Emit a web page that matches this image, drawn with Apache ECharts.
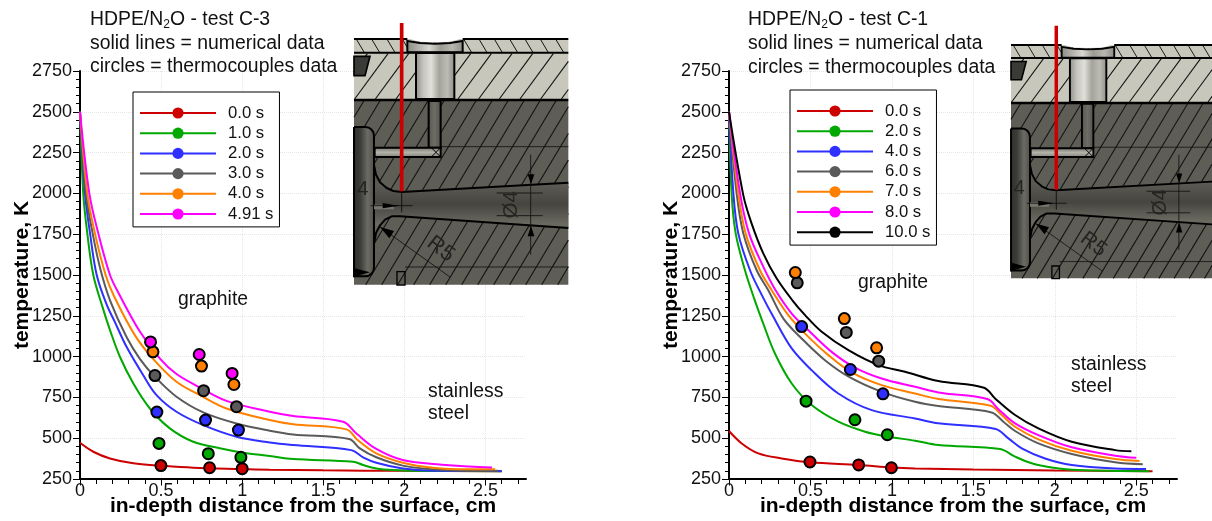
<!DOCTYPE html>
<html><head><meta charset="utf-8">
<style>html,body{margin:0;padding:0;background:#fff}#c{width:1212px;height:521px}</style>
<script src="https://cdn.jsdelivr.net/npm/echarts@6/dist/echarts.min.js"></script>
</head><body><div id="c"></div>
<script>
// ---- Test C-3 curves [depth cm, temperature K]
const c3_t000 = [[0,472],[.082,417],[.185,376],[.329,346],[.493,332],[.698,319],[.996,311],[1.17,307],[1.5,303],[2,300],[2.6,298]];
const c3_t100 = [[0,2500],[.02,2000],[.045,1755],[.082,1500],[.14,1300],[.185,1162],[.246,999],[.329,835],[.431,682],[.554,560],[.698,478],[.862,438],[1.006,411],[1.17,391],[1.314,372],[1.684,356],[1.745,336],[1.827,315],[1.93,305],[2.13,299],[2.6,298]];
const c3_t200 = [[0,2500],[.031,2000],[.062,1755],[.103,1500],[.164,1320],[.216,1210],[.287,1060],[.39,886],[.472,764],[.595,662],[.76,580],[.965,509],[1.17,474],[1.314,458],[1.673,427],[1.745,383],[1.827,350],[1.99,315],[2.177,301],[2.6,299]];
const c3_t300 = [[0,2500],[.037,2000],[.078,1755],[.127,1530],[.185,1345],[.287,1120],[.37,985],[.462,876],[.595,754],[.76,658],[.965,590],[1.17,546],[1.314,523],[1.66,495],[1.725,438],[1.827,383],[1.99,332],[2.177,309],[2.4,299],[2.58,300]];
const c3_t400 = [[0,2500],[.045,2000],[.092,1755],[.158,1500],[.21,1370],[.339,1130],[.452,985],[.595,846],[.739,764],[.903,682],[1.17,611],[1.314,585],[1.643,554],[1.712,489],[1.827,407],[1.99,350],[2.177,319],[2.4,309],[2.56,309]];
const c3_t491 = [[0,2500],[.0575,2000],[.113,1755],[.185,1500],[.24,1385],[.37,1152],[.493,988],[.595,893],[.739,811],[.903,729],[1.17,662],[1.314,636],[1.622,601],[1.704,529],[1.827,434],[1.99,366],[2.2,340],[2.4,326],[2.54,320]];
// ---- Test C-1 curves
const c1_t000 = [[0,544],[.078,468],[.18,407],[.323,376],[.497,352],[.794,336],[1,321],[1.142,315],[1.5,308],[2,302],[2.6,298]];
const c1_t200 = [[0,2500],[.016,2000],[.041,1755],[.098,1529],[.153,1360],[.211,1200],[.282,1019],[.385,835],[.507,703],[.671,601],[.835,540],[.978,509],[1.142,485],[1.285,458],[1.664,434],[1.756,387],[1.858,346],[1.98,321],[2.144,305],[2.58,298]];
const c1_t400 = [[0,2500],[.027,2000],[.057,1755],[.129,1529],[.2,1380],[.272,1244],[.385,1050],[.507,917],[.671,774],[.876,672],[1.142,621],[1.285,591],[1.637,556],[1.715,499],[1.797,438],[1.94,376],[2.104,336],[2.37,315],[2.56,312]];
const c1_t600 = [[0,2500],[.047,2000],[.088,1755],[.17,1529],[.241,1407],[.334,1233],[.446,1111],[.589,978],[.743,872],[.937,784],[1.142,723],[1.285,697],[1.612,658],[1.684,601],[1.756,544],[1.899,468],[2.104,403],[2.37,352],[2.54,340]];
const c1_t700 = [[0,2500],[.057,2000],[.102,1755],[.19,1529],[.262,1407],[.364,1254],[.467,1141],[.61,1009],[.753,903],[.937,825],[1.142,774],[1.285,740],[1.606,699],[1.674,642],[1.756,570],[1.899,493],[2.104,423],[2.37,372],[2.52,360]];
const c1_t800 = [[0,2500],[.068,2000],[.123,1755],[.211,1550],[.286,1407],[.385,1264],[.487,1162],[.63,1029],[.773,933],[.937,866],[1.142,815],[1.285,780],[1.586,740],[1.654,678],[1.756,591],[1.899,519],[2.104,444],[2.37,393],[2.5,380]];
const c1_t1000 = [[0,2500],[.088,1988],[.139,1815],[.211,1631],[.293,1478],[.389,1345],[.467,1254],[.569,1152],[.733,1039],[.917,948],[1.08,907],[1.285,850],[1.565,809],[1.633,744],[1.756,642],[1.899,560],[2.104,478],[2.37,427],[2.47,420]];
// ---- Thermocouple readings
const c3_tc000 = [[.499,332],[.799,319],[1.0,313]];
const c3_tc100 = [[.487,468],[.791,405],[.992,383]];
const c3_tc200 = [[.474,660],[.774,611],[.977,550]];
const c3_tc300 = [[.462,884],[.762,791],[.965,693]];
const c3_tc400 = [[.45,1029],[.749,942],[.949,829]];
const c3_tc491 = [[.435,1090],[.735,1013],[.938,897]];
const c1_tc000 = [[.497,354],[.796,336],[.997,319]];
const c1_tc200 = [[.473,727],[.773,613],[.972,521]];
const c1_tc400 = [[.446,1184],[.745,921],[.945,772]];
const c1_tc600 = [[.419,1452],[.72,1148],[.919,972]];
const c1_tc700 = [[.407,1515],[.708,1233],[.906,1054]];
// ---- Labels and ticks
const c3_times = ['0.0 s','1.0 s','2.0 s','3.0 s','4.0 s','4.91 s'];
const c1_times = ['0.0 s','2.0 s','4.0 s','6.0 s','7.0 s','8.0 s','10.0 s'];
const xMajor = [0,.5,1,1.5,2,2.5];
const xMinor = [.1,.2,.3,.4,.6,.7,.8,.9,1.1,1.2,1.3,1.4,1.6,1.7,1.8,1.9,2.1,2.2,2.3,2.4,2.6,2.7];

const RED='#cc0000',GREEN='#00a800',BLUE='#2f2fff',GRAY='#5a5a5a',ORANGE='#ff8000',MAG='#ff00ff',BLK='#000000';
const FONT='"Liberation Sans", Arial, sans-serif';

const series=[];
function addSet(prefix,times,colors,curves,tcs,xi,yi){
  times.forEach((t,i)=>{
    series.push({name:prefix+'|'+t,type:'line',xAxisIndex:xi,yAxisIndex:yi,data:curves[i],symbol:'none',showSymbol:false,
      smooth:.35,lineStyle:{color:colors[i],width:2},itemStyle:{color:colors[i]},z:3,silent:true,animation:false});
  });
  tcs.forEach((d,i)=>{
    series.push({name:prefix+'|tc'+i,type:'scatter',xAxisIndex:xi,yAxisIndex:yi,data:d,symbolSize:11,
      itemStyle:{color:colors[i],borderColor:'#000',borderWidth:2,opacity:1},z:4,silent:true,animation:false});
  });
}
addSet('C3',c3_times,[RED,GREEN,BLUE,GRAY,ORANGE,MAG],[c3_t000,c3_t100,c3_t200,c3_t300,c3_t400,c3_t491],[c3_tc000,c3_tc100,c3_tc200,c3_tc300,c3_tc400,c3_tc491],0,0);
addSet('C1',c1_times,[RED,GREEN,BLUE,GRAY,ORANGE,MAG,BLK],[c1_t000,c1_t200,c1_t400,c1_t600,c1_t700,c1_t800,c1_t1000],[c1_tc000,c1_tc200,c1_tc400,c1_tc600,c1_tc700],2,1);

function xAxes(gi){
  return [{
    gridIndex:gi,type:'value',min:0,max:2.75,position:'bottom',
    name:'in-depth distance from the surface, cm',nameLocation:'middle',nameGap:17,nameMoveOverlap:false,
    nameTextStyle:{fontFamily:FONT,fontWeight:'bold',fontSize:21,color:'#000'},
    axisLine:{onZero:false,lineStyle:{color:'#000',width:2}},
    axisTick:{show:true,length:6.5,inside:false,customValues:xMajor,lineStyle:{color:'#000',width:1}},
    axisLabel:{customValues:xMajor,formatter:v=>String(v),fontFamily:FONT,fontSize:18,color:'#111',margin:3,hideOverlap:false},
    splitLine:{show:true,lineStyle:{color:'#e6e6e6',type:'dotted',width:1}}
  },{
    gridIndex:gi,type:'value',min:0,max:2.75,position:'bottom',
    axisLine:{show:false},
    axisTick:{show:true,length:5,customValues:xMinor,lineStyle:{color:'#000',width:1}},
    axisLabel:{show:false},splitLine:{show:false}
  }];
}
function yAxis(gi){
  return {gridIndex:gi,type:'value',min:250,max:2750,interval:250,
    name:'temperature, K',nameLocation:'middle',nameGap:47,nameMoveOverlap:false,
    nameTextStyle:{fontFamily:FONT,fontWeight:'bold',fontSize:21,color:'#000'},
    axisLine:{show:true,onZero:false,lineStyle:{color:'#000',width:2}},
    axisTick:{show:true,length:7,lineStyle:{color:'#000',width:1}},
    minorTick:{show:true,splitNumber:5,length:4,lineStyle:{color:'#000',width:1}},
    axisLabel:{formatter:v=>String(v),fontFamily:FONT,fontSize:18,color:'#111',margin:8,showMinLabel:true,showMaxLabel:true},
    splitLine:{show:true,lineStyle:{color:'#e6e6e6',type:'dotted',width:1}}
  };
}
function legend(prefix,times,left,top){
  return {orient:'vertical',left:left,top:top,selectedMode:false,data:times.map(t=>prefix+'|'+t),
    formatter:n=>n.split('|')[1],itemWidth:76,itemHeight:14,itemGap:3.2,
    padding:[12.5,6,4.4,6],backgroundColor:'#fff',borderColor:'#000',borderWidth:1,borderRadius:0,
    textStyle:{fontFamily:FONT,fontSize:16.7,color:'#111',padding:[0,0,0,7]}};
}

// ---- Nozzle section picture, drawn in its own local coordinates
function L(x1,y1,x2,y2,w,c){return {type:'line',z:10,shape:{x1,y1,x2,y2},style:{stroke:c||'#000',lineWidth:w||3}};}
function R(x,y,w,h,f,s,sw,r){return {type:'rect',z:10,shape:{x,y,width:w,height:h,r:r||0},style:{fill:f,stroke:s||null,lineWidth:sw||0}};}
function P(pts,f,s,sw){return {type:'polygon',z:10,shape:{points:pts},style:{fill:f||null,stroke:s||null,lineWidth:sw||0}};}
function PL(pts,s,sw){return {type:'polyline',z:10,shape:{points:pts},style:{fill:null,stroke:s,lineWidth:sw,lineJoin:'round'}};}
function T(t,x,y,size,rot){return {type:'text',z:11,x,y,rotation:rot||0,style:{text:t,fontFamily:FONT,fontSize:size,fill:'#242422',align:'center',verticalAlign:'middle'}};}
function grad(vert,stops){return {type:'linear',x:0,y:0,x2:vert?0:1,y2:vert?1:0,colorStops:stops.map((c,i)=>({offset:i/(stops.length-1),color:c}))};}
function nozzle(ox,oy,k,redTop){
  const ch=[];
  const X0=12,X1=655,Y1=795;
  const HATCH='#141414';
  ch.push(R(X0,58,X1-X0,185,'#c8c7bb'));
  ch.push(R(X0,243,X1-X0,Y1-243,'#5e5d56'));
  // hatching: top strip leans back, plate and graphite lean forward
  for(let x=X0+8;x<X1-20;x+=46){ch.push(L(x,60,x+22,97,3,HATCH));}
  for(let x=X0+40;x<X1+100;x+=62){
    let xa=x,ya=102; if(xa>X1){ya=102+(xa-X1)*1.36;xa=X1;}
    let xb=x-100,yb=238; if(xb<X0){yb=102+(x-X0)*1.36;xb=X0;}
    ch.push(L(xa,ya,xb,yb,3.4,HATCH));
  }
  for(let x=X0+30;x<X1+330;x+=48){
    let x1=x,y1=243; if(x1>X1){y1=243+(x1-X1)/.6;x1=X1;}
    let x2=x-331,y2=Y1; if(x2<X0){x2=X0;y2=243+(x-X0)/.6;}
    if(y1<Y1) ch.push(L(x1,y1,x2,y2,3.4,HATCH));
  }
  ch.push(L(272,381,X1,381,2.6,HATCH));
  ch.push(L(165,742,X1,742,2.6,HATCH));
  // bore and chamber
  ch.push(P([[66,436],[78,465],[90,488],[110,505],[130,514],[155,517],[X1,489],[X1,625],[150,590],[125,590],[105,600],[90,617],[78,640],[66,672]],grad(true,['#4a4943','#5b5a53','#46453f','#6a6a61','#55544d'])));
  ch.push(R(X0,322,60,448,grad(false,['#2e2e2b','#3c3c38','#6c6b64','#4c4b46']),'#000',6,[0,26,26,0]));
  ch.push(PL([[72,436],[78,465],[90,488],[110,505],[130,514],[155,517],[X1,489]],'#000',6));
  ch.push(PL([[72,672],[78,640],[90,617],[105,600],[125,590],[150,590],[X1,625]],'#000',6));
  ch.push(R(72,555,60,14,'#77766d'));
  // upper holes
  ch.push(P([[172,64],[210,70],[255,72],[300,70],[338,64],[338,98],[172,98]],grad(false,['#8a8a82','#b0b0a8','#d8d8d2','#9c9c94','#b8b8b0','#8a8a82']),'#000',6));
  ch.push(P([[172,56],[210,66],[255,68],[300,66],[338,56],[338,50],[172,50]],'#ffffff'));
  ch.push(L(X0,58,172,58,6)); ch.push(L(338,58,X1,58,6));
  ch.push(R(198,100,115,138,grad(false,['#8c8c84','#c4c4bc','#e0e0da','#a4a49c','#bcbcb4','#8c8c84']),'#000',6));
  ch.push(L(X0,99,X1,99,6));
  ch.push(L(X0,241,X1,241,8));
  ch.push(P([[12,110],[60,110],[45,168],[12,168]],'#3a3a37','#000',5));
  // thermocouple channel
  ch.push(R(236,244,36,140,grad(false,['#55544e','#6e6d65','#4e4d48']),'#000',6));
  ch.push(R(74,384,198,28,grad(true,['#6a6a62','#b4b4aa','#7a7a70']),'#000',6));
  ch.push(L(272,384,244,412,3)); ch.push(L(244,384,272,412,3));
  // dimensions
  ch.push(L(542,405,542,705,2.6,'#111'));
  ch.push(P([[533,464],[553,464],[543,494]],'#000'));
  ch.push(P([[533,650],[553,650],[543,618]],'#000'));
  ch.push(L(440,520,578,520,2.6,'#111')); ch.push(L(440,588,578,588,2.6,'#111'));
  ch.push(L(155,520,155,578,3,'#111'));
  ch.push(L(62,558,188,558,2.6,'#111'));
  ch.push(P([[98,550],[98,566],[148,558]],'#000'));
  ch.push(L(90,622,300,772,2.6,'#111'));
  ch.push(P([[90,622],[132,634],[118,656]],'#000'));
  ch.push(P([[14,746],[60,758],[14,770]],'#000'));
  ch.push(R(141,756,24,40,null,'#000',4));
  ch.push(T('4',38,510,62));
  ch.push(T('Ø4',485,555,62,Math.PI/2));
  ch.push(T('R5',272,688,66,-0.66));
  ch.push(L(155,redTop,155,515,11,'#cc0000'));
  return {type:'group',x:ox-X0*k,y:oy-55*k,scaleX:k,scaleY:k,children:ch};
}
const TS=19.4;
function label(text,x,y){return {type:'text',z:12,x,y,style:{text,fontFamily:FONT,fontSize:TS,fill:'#111',verticalAlign:'middle',
  rich:{sub:{fontFamily:FONT,fontSize:12,fill:'#111',padding:[9,0,0,0]},n:{fontFamily:FONT,fontSize:TS,fill:'#111'}}}};}

const option={
  animation:false,backgroundColor:'#fff',
  grid:[{left:80,top:71,width:446,height:408,outerBoundsMode:'none'},{left:729,top:71,width:448,height:408,outerBoundsMode:'none'}],
  xAxis:[...xAxes(0),...xAxes(1)],
  yAxis:[yAxis(0),yAxis(1)],
  legend:[legend('C3',c3_times,133,92),legend('C1',c1_times,790,90)],
  series,
  graphic:{elements:[
    nozzle(354,38,1/3,10),
    nozzle(1011,44,.3167,-3),
    label('{n|HDPE/N}{sub|2}{n|O - test C-3}',90,20),
    label('solid lines = numerical data',90,44),
    label('circles = thermocouples data',90,67),
    label('{n|HDPE/N}{sub|2}{n|O - test C-1}',748,20),
    label('solid lines = numerical data',748,44),
    label('circles = thermocouples data',748,68),
    label('graphite',178,300),label('stainless',428,392),label('steel',428,414),
    label('graphite',858,283),label('stainless',1071,365),label('steel',1071,387)
  ]}
};
echarts.init(document.getElementById('c'),null,{renderer:'canvas'}).setOption(option);
</script></body></html>
